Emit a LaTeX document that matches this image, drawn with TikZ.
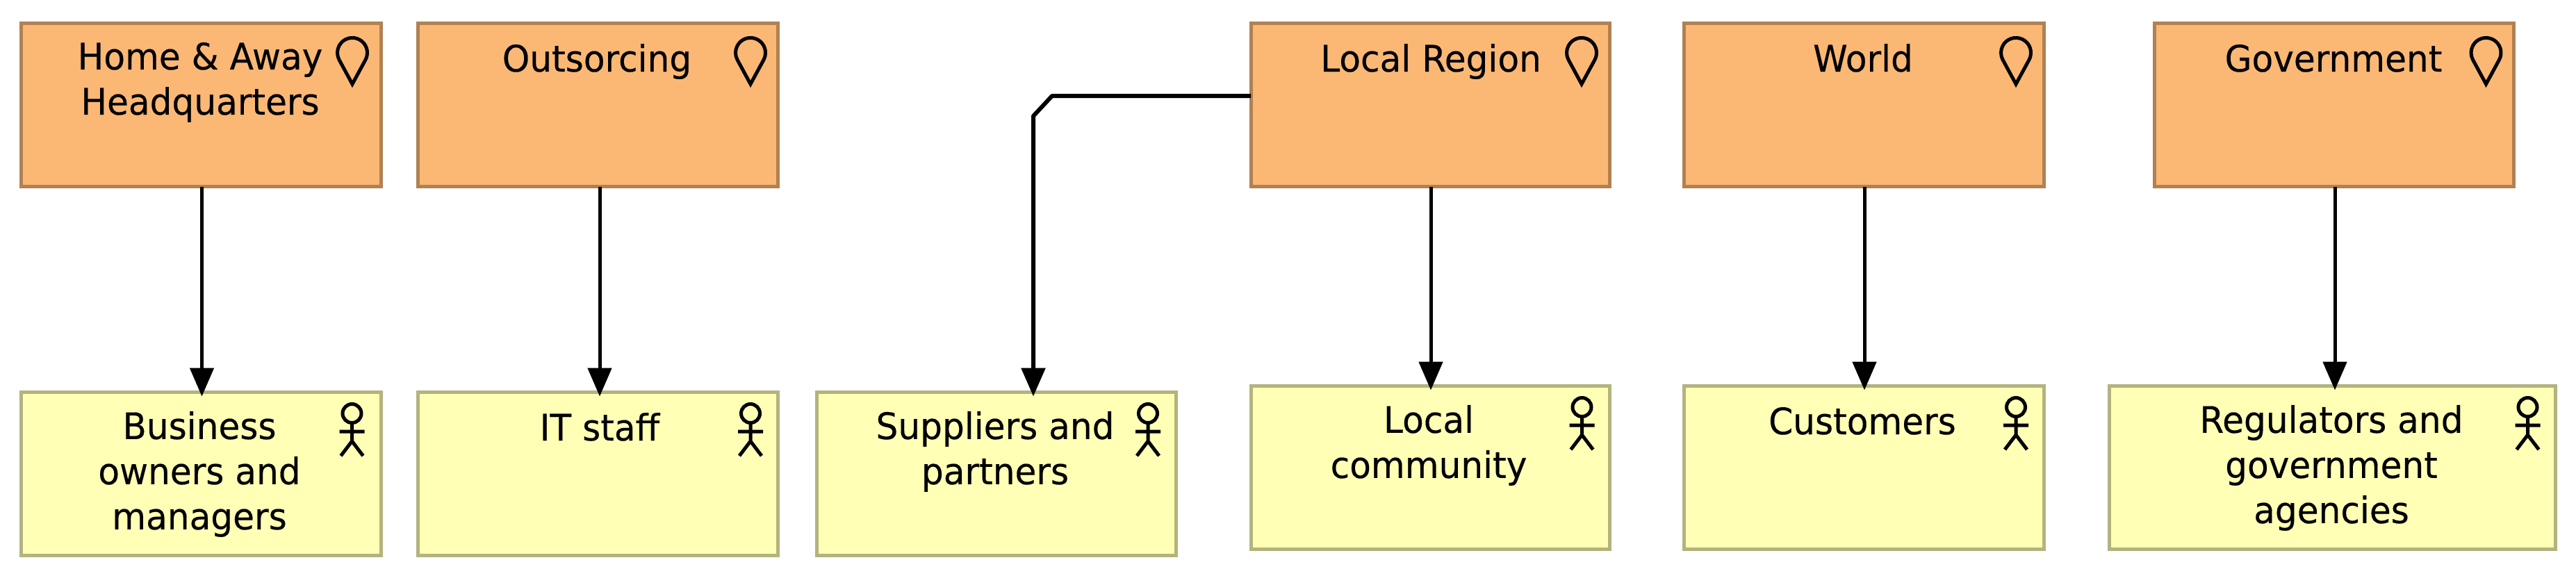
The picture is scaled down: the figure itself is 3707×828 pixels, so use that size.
\documentclass[tikz,border=0pt]{standalone}
\usepackage{fontspec}
\setmainfont[FakeStretch=0.955,FakeBold=0.3]{DejaVu Sans}
\usetikzlibrary{arrows.meta}
\definecolor{locfill}{HTML}{FBB875}
\definecolor{locline}{HTML}{B08152}
\definecolor{actfill}{HTML}{FFFFB5}
\definecolor{actline}{HTML}{B3B37F}
\tikzset{
  box/.style={rectangle,draw,line width=5pt,inner sep=0pt,outer sep=0pt,minimum height=235pt},
  locbox/.style={box,fill=locfill,draw=locline},
  actbox/.style={box,fill=actfill,draw=actline},
  lab/.style={anchor=north,inner sep=0pt,outer sep=0pt,align=center,font=\fontsize{52.5}{65}\selectfont,
    execute at begin node={\rule{0pt}{42pt}}},
  conn/.style={draw=black,line width=5pt,-{Triangle[length=41pt,width=34pt]}},
  marker/.pic={\draw[black,line width=5pt,miter limit=10] (19,10) arc[start angle=-28,end angle=208,radius=21.5pt] -- (0,45) -- cycle;},
  actor/.pic={\draw[black,line width=5pt] (0,0) circle[radius=13.5pt] (0,13.5) -- (0,40) (-18,26) -- (18,26) (-16,61) -- (0,40) -- (16,61);}
}
\begin{document}
\begin{tikzpicture}[x=1pt,y=-1pt]
\useasboundingbox (0,0) rectangle (3707,828);
% locations
\node[locbox,minimum width=518pt] (h1) at (289,151) {};
\node[locbox,minimum width=518pt] (h2) at (860.5,151) {};
\node[locbox,minimum width=516pt] (h3) at (2058,151) {};
\node[locbox,minimum width=518pt] (h4) at (2682,151) {};
\node[locbox,minimum width=517pt] (h5) at (3358.5,151) {};
% actors
\node[actbox,minimum width=518pt] (a1) at (289,682) {};
\node[actbox,minimum width=518pt] (a2) at (860.5,682) {};
\node[actbox,minimum width=517pt] (a3) at (1433.5,682) {};
\node[actbox,minimum width=516pt] (a4) at (2058,673) {};
\node[actbox,minimum width=518pt] (a5) at (2682,673) {};
\node[actbox,minimum width=642.5pt] (a6) at (3356.25,673) {};
% labels (top = baseline - 42)
\node[lab] (t1) at (288,61) {Home \& Away\\Headquarters};
\node[lab] (t2) at (859,61) {Outsorcing};
\node[lab] (t3) at (2059,61) {Local Region};
\node[lab] (t4) at (2681,61) {World};
\node[lab] (t5) at (3358,61) {Government};
\node[lab] (t6) at (287,592) {Business\\owners and\\managers};
\node[lab] (t7) at (863,592) {IT staff};
\node[lab] (t8) at (1432,592) {Suppliers and\\partners};
\node[lab] (t9) at (2056,583) {Local\\community};
\node[lab] (t10) at (2680,583) {Customers};
\node[lab] (t11) at (3355,583) {Regulators and\\government\\agencies};
% icons
\pic at (507,76) {marker};
\pic at (1080,76) {marker};
\pic at (2276,76) {marker};
\pic at (2901,76) {marker};
\pic at (3577.5,76) {marker};
\pic at (506.5,595) {actor};
\pic at (1080,595) {actor};
\pic at (1652,595) {actor};
\pic at (2276.5,586) {actor};
\pic at (2901,586) {actor};
\pic at (3637.5,586) {actor};
% connector routing points
\coordinate (x1) at (290.5,0);
\coordinate (x2) at (863,0);
\coordinate (x4) at (2059,0);
\coordinate (x5) at (2683,0);
\coordinate (x6) at (3360,0);
\coordinate (b1) at (1514,138);
\coordinate (b2) at (1487,167);
% connectors
\draw[conn] (h1.south -| x1) -- ([yshift=-6pt]a1.north -| x1);
\draw[conn] (h2.south -| x2) -- ([yshift=-6pt]a2.north -| x2);
\draw[conn,line width=6pt,line join=round] (h3.west |- b1) -- (b1) -- (b2) -- ([yshift=-6pt]a3.north -| b2);
\draw[conn] (h3.south -| x4) -- ([yshift=-6pt]a4.north -| x4);
\draw[conn] (h4.south -| x5) -- ([yshift=-6pt]a5.north -| x5);
\draw[conn] (h5.south -| x6) -- ([yshift=-6pt]a6.north -| x6);
\end{tikzpicture}
\end{document}
